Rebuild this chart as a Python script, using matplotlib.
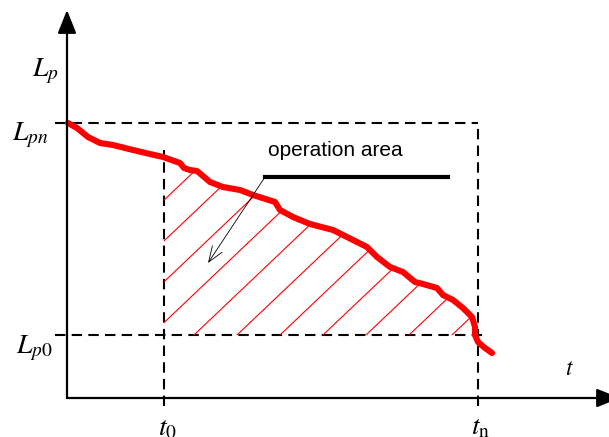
import numpy as np
import matplotlib.pyplot as plt
from matplotlib.patches import Polygon

plt.rcParams['mathtext.fontset'] = 'stix'
plt.rcParams['lines.scale_dashes'] = False

# schematic levels (arbitrary units, origin where the axes cross)
t0, tn = 97, 411
lp0, lpn = 63, 275

# Lp(t) curve
t_curve = [1, 10, 21, 33, 46, 66, 83, 96, 113, 117, 123, 130, 136, 143, 156,
           173, 186, 208, 213, 226, 243, 266, 276, 300, 310, 323, 336, 348,
           356, 370, 376, 386, 396, 405, 408, 408, 411, 418, 425]
lp_curve = [275, 270, 261, 255, 253, 248, 244, 241, 235, 230, 228, 227, 222,
            216, 211, 208, 203, 196, 188, 181, 174, 168, 163, 151, 141, 131,
            126, 116, 114, 110, 103, 98, 90, 81, 71, 63, 56, 50, 45]

# hatching of the operation area
hatch_slope = 0.95
hatch_step = 43
hatch_start = 84

fig = plt.figure(figsize=(6.09, 4.37), dpi=100)
ax = fig.add_axes([0, 0, 1, 1])
ax.set_xlim(-67, 542)
ax.set_ylim(-39, 398)
ax.axis('off')

# axes with arrows
head = '-|>,head_length=0.75,head_width=0.3'
ax.annotate('', xy=(0, 388), xytext=(0, 0), annotation_clip=False,
            arrowprops=dict(arrowstyle=head, mutation_scale=19, lw=1.6,
                            color='k', shrinkA=0, shrinkB=0))
ax.annotate('', xy=(553, 0), xytext=(0, 0), annotation_clip=False,
            arrowprops=dict(arrowstyle=head, mutation_scale=19, lw=1.6,
                            color='k', shrinkA=0, shrinkB=0))

# dashed guide lines
dash = dict(color='k', lw=1.5, linestyle=(0, (7.5, 4.5)))
ax.plot([-12, tn], [lpn, lpn], **dash)
ax.plot([-12, tn + 8], [lp0, lp0], **dash)
ax.plot([t0, t0], [-8, 248], **dash)
ax.plot([tn, tn], [-8, lpn], **dash)

# hatched operation area
xs = np.linspace(t0, tn, 400)
top = np.maximum(np.interp(xs, t_curve, lp_curve), lp0)
verts = np.column_stack([np.r_[xs, tn, t0], np.r_[top, lp0, lp0]])
area = Polygon(verts, closed=True, facecolor='none', edgecolor='none')
ax.add_patch(area)
for c in np.arange(hatch_start - 5 * hatch_step, tn, hatch_step):
    x_end = c + (lpn - lp0) / hatch_slope
    ln, = ax.plot([c, x_end], [lp0, lpn], color='red', lw=0.8)
    ln.set_clip_path(area)

# the curve
ax.plot(t_curve, lp_curve, color='red', lw=4.4, solid_capstyle='round',
        solid_joinstyle='round')

# callout
ax.plot([198, 381], [221, 221], color='k', lw=3)
ax.annotate('', xy=(141, 135), xytext=(198, 221),
            arrowprops=dict(arrowstyle='->,head_length=0.8,head_width=0.3',
                            mutation_scale=14, lw=0.6, color='k',
                            shrinkA=0, shrinkB=0))
ax.text(201, 242, 'operation area', fontsize=15, family='Liberation Sans',
        ha='left', va='baseline')

# labels
lab = dict(fontsize=20, ha='left', va='baseline')
ax.text(-35, 322, r'$L_p$', **lab)
ax.text(-55, 258, r'$L_{pn}$', **lab)
ax.text(-51, 45, r'$L_{p0}$', **lab)
ax.text(91, -37, r'$t_0$', **lab)
ax.text(404, -36, r'$t_\mathrm{n}$', **lab)
ax.text(498, 23, r'$t$', fontsize=17, ha='left', va='baseline')

fig.savefig('out.png', dpi=100)
